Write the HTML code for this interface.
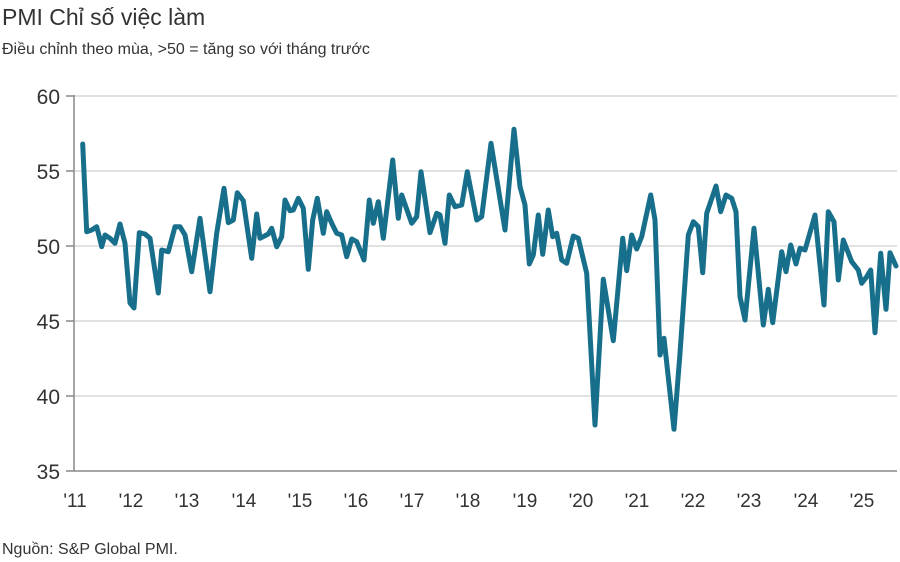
<!DOCTYPE html>
<html><head><meta charset="utf-8"><style>
html,body{margin:0;padding:0;background:#fff;}
svg{display:block;font-family:"Liberation Sans",sans-serif;}
</style></head><body>
<svg width="900" height="562" viewBox="0 0 900 562" xmlns="http://www.w3.org/2000/svg">
<text x="2" y="25" font-size="23" fill="#333">PMI Chỉ số việc làm</text>
<text x="2" y="54" font-size="16" fill="#333">Điều chỉnh theo mùa, &gt;50 = tăng so với tháng trước</text>
<g stroke="#d9d9d9" stroke-width="1.5">
<line x1="74" y1="96" x2="897" y2="96"/>
<line x1="74" y1="171" x2="897" y2="171"/>
<line x1="74" y1="246" x2="897" y2="246"/>
<line x1="74" y1="321" x2="897" y2="321"/>
<line x1="74" y1="396" x2="897" y2="396"/>
</g>
<g stroke="#888" stroke-width="1.5">
<line x1="74" y1="95" x2="74" y2="471"/>
<line x1="66" y1="471" x2="897" y2="471"/>
<line x1="66" y1="96" x2="74" y2="96"/><line x1="66" y1="171" x2="74" y2="171"/><line x1="66" y1="246" x2="74" y2="246"/><line x1="66" y1="321" x2="74" y2="321"/><line x1="66" y1="396" x2="74" y2="396"/>
</g>
<g font-size="21" fill="#333" text-anchor="end">
<text x="60" y="104">60</text><text x="60" y="179">55</text><text x="60" y="254">50</text><text x="60" y="329">45</text><text x="60" y="404">40</text><text x="60" y="479">35</text>
</g>
<g font-size="19" fill="#333" text-anchor="middle">
<text x="75" y="507">'11</text><text x="131" y="507">'12</text><text x="187" y="507">'13</text><text x="244" y="507">'14</text><text x="300" y="507">'15</text><text x="356" y="507">'16</text><text x="412" y="507">'17</text><text x="468" y="507">'18</text><text x="525" y="507">'19</text><text x="581" y="507">'20</text><text x="637" y="507">'21</text><text x="693" y="507">'22</text><text x="749" y="507">'23</text><text x="806" y="507">'24</text><text x="862" y="507">'25</text>
</g>
<polyline fill="none" stroke="#176f8b" stroke-width="5" stroke-linejoin="round" stroke-linecap="round" points="
82.7,144 86.7,231.7 91.7,230 96.7,226.7 99.3,236.7 101.7,246.7 105,235 110,238.3 115,243.3 120,224 125,243.3 130,303 134,308 139.3,232.7 145,234 150,238.3 158.3,293 161.7,250 168.3,251.7 175,226.7 180,226.7 185,235 191.7,271.7 200,218.3 210,291.7 216.7,233.3 224,188.3 228.3,222.7 233.3,220 237.3,192.7 243.3,200.7 251.7,258.3 256.7,214 260,238.3 268.3,234 271.7,228.3 276.7,246.7 281.7,236.7 285,200 290,210.7 293.3,210 298.3,198.3 303.3,208.3 308.3,269.3 312.7,220 317.3,198.3 323.3,233.3 326.7,211.7 331.7,223.3 336.7,233.3 341.7,235 346.7,256.7 351.7,239 356.7,241.7 364,260 369.3,200 373.3,223.3 378.3,201.7 383.3,238.3 392.7,160 398.3,218.3 401.7,195 411.7,223.3 416.7,216.7 421,171.7 430,232.7 436.7,213.3 440,215 445,243.3 449.3,195 455,206.7 461.7,205 467.3,171.7 476.7,220 481.7,216.7 491,143.3 505,230 514,129.3 520,186.7 525,205 529.3,264 533.3,255 538.3,215 542.7,254.3 548.3,210 552.7,236.7 556.7,233.3 561.7,260 566.7,263.3 573.3,236 578.3,238.3 586.7,273.3 595,425 603.3,279.3 613.3,340.7 622.7,238.3 626.7,270.7 631.7,235 636.7,249 641.7,236.7 650.7,195 655,220 660,355 664,338.3 674,429.3 680,353.3 688.3,235 693.3,221.7 698.3,226.7 702.7,272.7 706.7,213.3 716,186 720.7,211.7 726,195 731.7,198.3 736,211.7 740,296.7 745,320 754,228.3 763.3,325 768.3,289.3 772.7,322.7 781.7,251.7 786,271.7 790.7,245 796,264 800,248.3 805,250 815,215 824,305 828.3,211.7 834,221.7 838.3,280 843.3,240 851.7,261.7 858.3,270 861.7,283.3 866.7,276.7 870.7,270 875,332.7 880.7,253.3 886,309.3 890,252.7 896,266"/>
<text x="2" y="554" font-size="16" fill="#333">Nguồn: S&amp;P Global PMI.</text>
</svg>
</body></html>
